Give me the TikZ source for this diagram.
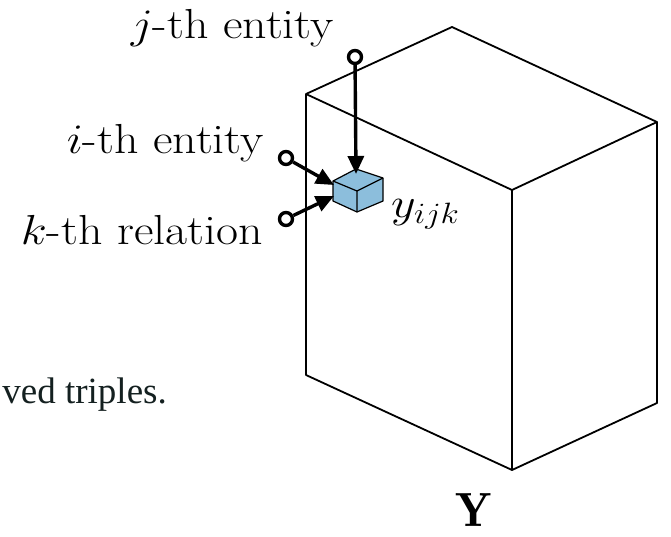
\RequirePackage{fix-cm}
\documentclass[tikz,border=0pt]{standalone}
\usepackage{fontspec}
\newfontfamily\capfont{Liberation Serif}
\usetikzlibrary{arrows.meta}
\definecolor{cubeblue}{RGB}{140,190,220}
\definecolor{captext}{RGB}{20,32,32}
\newcommand{\widetxt}[1]{\scalebox{1.14}[1]{#1}}
\tikzset{
  boxedge/.style={line width=1.8pt, line join=round},
  endcircle/.style={circle, draw, line width=3.4pt, minimum size=13pt, inner sep=0pt, fill=white},
  feed/.style={line width=3.4pt, -{Triangle[length=18pt,width=16pt]}},
  lbl/.style={font=\fontsize{42}{48}\selectfont, inner sep=0pt},
}
\begin{document}
\begin{tikzpicture}[x=1pt,y=-1pt]
\useasboundingbox (0,0) rectangle (671,536);
% big box
\coordinate (tl) at (306,94);
\coordinate (tb) at (452,27);
\coordinate (tr) at (657,122);
\coordinate (tf) at (512,190);
\coordinate (bl) at (306,375);
\coordinate (bf) at (512,470);
\coordinate (br) at (657,403);
\draw[boxedge] (tl) -- (tb) -- (tr) -- (tf) -- cycle;
\draw[boxedge] (tl) -- (bl) -- (bf) -- (br) -- (tr);
\draw[boxedge] (tf) -- (bf);
% small cube
\coordinate (cL) at (333,181);
\coordinate (cB) at (356,169);
\coordinate (cR) at (383,178);
\coordinate (cF) at (357,191);
\coordinate (cLb) at (333,201);
\coordinate (cFb) at (357,212);
\coordinate (cRb) at (383,201);
\draw[fill=cubeblue, line width=1.2pt, line join=round] (cL) -- (cB) -- (cR) -- (cRb) -- (cFb) -- (cLb) -- cycle;
\draw[line width=1.2pt, line join=round] (cL) -- (cF) -- (cR) (cF) -- (cFb);
% targets
\coordinate (jt) at (356,174);
\coordinate (it) at (334,185);
\coordinate (kt) at (334,196);
% circles
\node[endcircle] (jc) at (355,57) {};
\node[endcircle] (ic) at (286,158) {};
\node[endcircle] (kc) at (286,219) {};
\draw[feed] (jc) -- (jt);
\draw[feed] (ic) -- (it);
\draw[feed] (kc) -- (kt);
% labels
\node[lbl, anchor=base east] (jl) at (334,38) {\widetxt{$j$-th entity}};
\node[lbl, anchor=base east] (il) at (264,153) {\widetxt{$i$-th entity}};
\node[lbl, anchor=base east] (kl) at (263,244) {\widetxt{$k$-th relation}};
\node[lbl, anchor=base west] (yl) at (391,217) {\widetxt{$y_{ijk}$}};
\node[font=\fontsize{48}{54}\selectfont, inner sep=0pt, anchor=base] (Yl) at (474,526) {$\mathbf{Y}$};
\node[font=\capfont\fontsize{37}{44}\selectfont, text=captext, inner sep=0pt, anchor=base east] (cap) at (167,403) {ved triples.};
\end{tikzpicture}
\end{document}
